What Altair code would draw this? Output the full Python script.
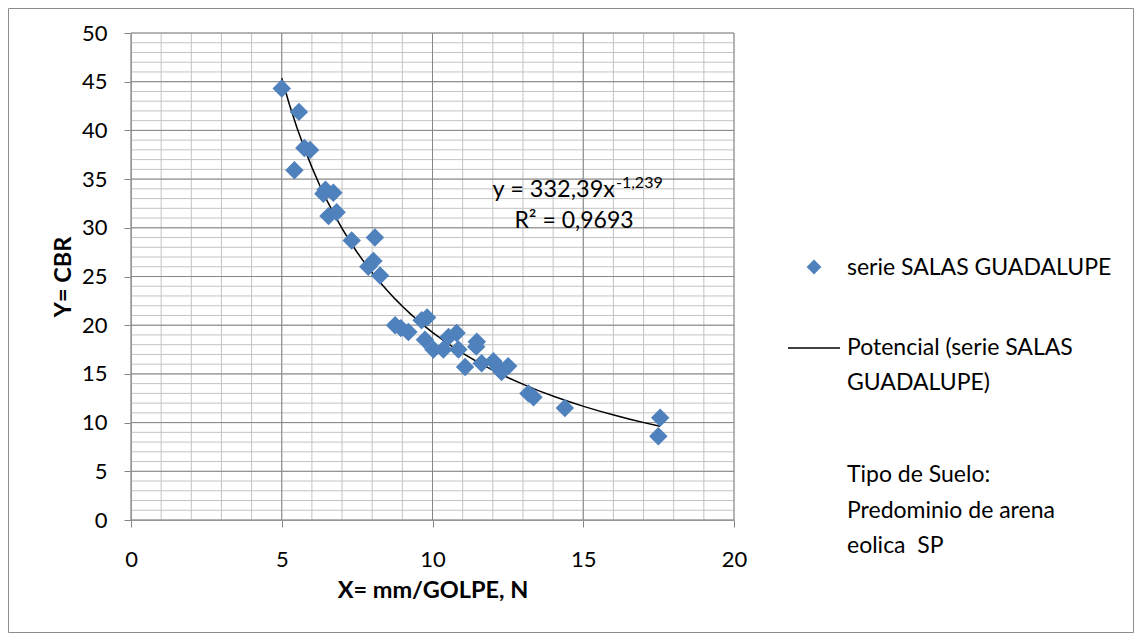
import altair as alt
import pandas as pd

# ---- data ----
x_vals = [5.0, 5.57, 5.75, 5.94, 5.42, 6.38, 6.45, 6.71, 6.55, 6.82,
          7.32, 8.09, 8.04, 7.87, 8.26, 8.76, 8.95, 9.2, 9.64, 9.82,
          9.75, 10.03, 10.36, 10.53, 10.8, 10.86, 11.08, 11.47, 11.45, 11.63,
          12.02, 12.19, 12.29, 12.51, 13.18, 13.35, 14.39, 17.55, 17.49]
y_vals = [44.3, 41.9, 38.2, 38.0, 35.9, 33.5, 33.9, 33.6, 31.2, 31.6,
          28.7, 29.0, 26.6, 26.0, 25.1, 20.0, 19.7, 19.3, 20.5, 20.8,
          18.5, 17.5, 17.5, 18.8, 19.2, 17.5, 15.7, 18.3, 17.8, 16.1,
          16.3, 15.6, 15.2, 15.8, 13.0, 12.6, 11.5, 10.5, 8.6]

x_ticks = [0, 5, 10, 15, 20]
y_ticks = [0, 5, 10, 15, 20, 25, 30, 35, 40, 45, 50]
x_minor = list(range(0, 21))
y_minor = list(range(0, 51))

series_name = "serie SALAS GUADALUPE"
trend_name_1 = "Potencial (serie SALAS"
trend_name_2 = "GUADALUPE)"
note_lines = ["Tipo de Suelo:", "Predominio de arena", "eolica\u00a0 SP"]
eq_main = "y = 332,39x"
eq_sup = "-1,239"
r2_text = "R\u00b2 = 0,9693"
x_title = "X= mm/GOLPE, N"
y_title = "Y= CBR"

FONT = "Lato"
BLUE = "#4F81BD"
MINOR = "#c3c3c3"
MAJOR = "#868686"

df = pd.DataFrame({"x": x_vals, "y": y_vals})

xs = alt.Scale(domain=[0, 20], nice=False, zero=False)
ys = alt.Scale(domain=[0, 50], nice=False, zero=False)

X_AXIS = alt.Axis(
    values=x_ticks, title=x_title, grid=False, tickSize=7, tickColor=MAJOR,
    domainColor=MAJOR, labelFont=FONT, labelFontSize=22, labelColor="black",
    labelPadding=22, titleFont=FONT, titleFontSize=23.5, titleFontWeight="bold",
    titleColor="black", titlePadding=8, labelFlush=False)
Y_AXIS = alt.Axis(
    values=y_ticks, title=y_title, grid=False, tickSize=7, tickColor=MAJOR,
    domainColor=MAJOR, labelFont=FONT, labelFontSize=22, labelColor="black",
    labelPadding=17, titleFont=FONT, titleFontSize=23.5, titleFontWeight="bold",
    titleColor="black", titlePadding=6, labelFlush=False)

# grid
vminor = alt.Chart(pd.DataFrame({"g": x_minor})).mark_rule(color=MINOR, strokeWidth=1).encode(
    x=alt.X("g:Q", scale=xs, axis=X_AXIS))
hminor = alt.Chart(pd.DataFrame({"g": y_minor})).mark_rule(color=MINOR, strokeWidth=1).encode(
    y=alt.Y("g:Q", scale=ys, axis=Y_AXIS))
vmajor = alt.Chart(pd.DataFrame({"g": x_ticks})).mark_rule(color=MAJOR, strokeWidth=1).encode(
    x=alt.X("g:Q", scale=xs, axis=X_AXIS))
hmajor = alt.Chart(pd.DataFrame({"g": y_ticks})).mark_rule(color=MAJOR, strokeWidth=1).encode(
    y=alt.Y("g:Q", scale=ys, axis=Y_AXIS))

points = alt.Chart(df).mark_point(shape="diamond", filled=True, size=340, color=BLUE, opacity=1).encode(
    x=alt.X("x:Q", scale=xs, axis=X_AXIS),
    y=alt.Y("y:Q", scale=ys, axis=Y_AXIS),
)

trend = alt.Chart(df).transform_regression("x", "y", method="pow").mark_line(
    color="black", strokeWidth=1.5).encode(
    x=alt.X("x:Q", scale=xs, axis=X_AXIS), y=alt.Y("y:Q", scale=ys, axis=Y_AXIS))


def txt(s, x, y, size=23, align="left", baseline="middle", weight="normal"):
    return alt.Chart(pd.DataFrame({"t": [s]})).mark_text(
        font=FONT, fontSize=size, align=align, baseline=baseline, color="black",
        fontWeight=weight).encode(text="t:N", x=alt.value(x), y=alt.value(y))


eq1 = txt(eq_main, 484, 164, size=23.5, align="right", baseline="alphabetic")
eq2 = txt(eq_sup, 485, 155, size=16, align="left", baseline="alphabetic")
r2 = txt(r2_text, 443, 195, size=23, align="center", baseline="alphabetic")

leg_pt = alt.Chart(pd.DataFrame({"t": [series_name]})).mark_point(
    shape="diamond", filled=True, size=220, color=BLUE, opacity=1).encode(
    x=alt.value(683), y=alt.value(234))
leg_t1 = txt(series_name, 716, 235)
leg_line = alt.Chart(pd.DataFrame({"t": [trend_name_1]})).mark_rule(color="black", strokeWidth=1.5).encode(
    x=alt.value(657), x2=alt.value(709), y=alt.value(315))
leg_t2 = txt(trend_name_1, 716, 315)
leg_t3 = txt(trend_name_2, 716, 350)
note1 = txt(note_lines[0], 716, 442)
note2 = txt(note_lines[1], 716, 478)
note3 = txt(note_lines[2], 716, 513)

frame = alt.Chart(pd.DataFrame({"t": ["frame"]})).mark_rect(
    fillOpacity=0, stroke="#8c8c8c", strokeWidth=1).encode(
    x=alt.value(-122.5), x2=alt.value(1002.5), y=alt.value(-24.5), y2=alt.value(599.5))

chart = alt.layer(
    frame, vminor, hminor, vmajor, hmajor, trend, points,
    eq1, eq2, r2, leg_pt, leg_t1, leg_line, leg_t2, leg_t3, note1, note2, note3
).properties(
    width=603, height=487,
    padding={"left": 123, "top": 25, "right": 400, "bottom": 113},
    autosize=alt.AutoSizeParams(type="none"),
    background="white",
).configure_view(strokeWidth=0)

chart.save("out.html", embed_options={"renderer": "svg", "actions": False})
